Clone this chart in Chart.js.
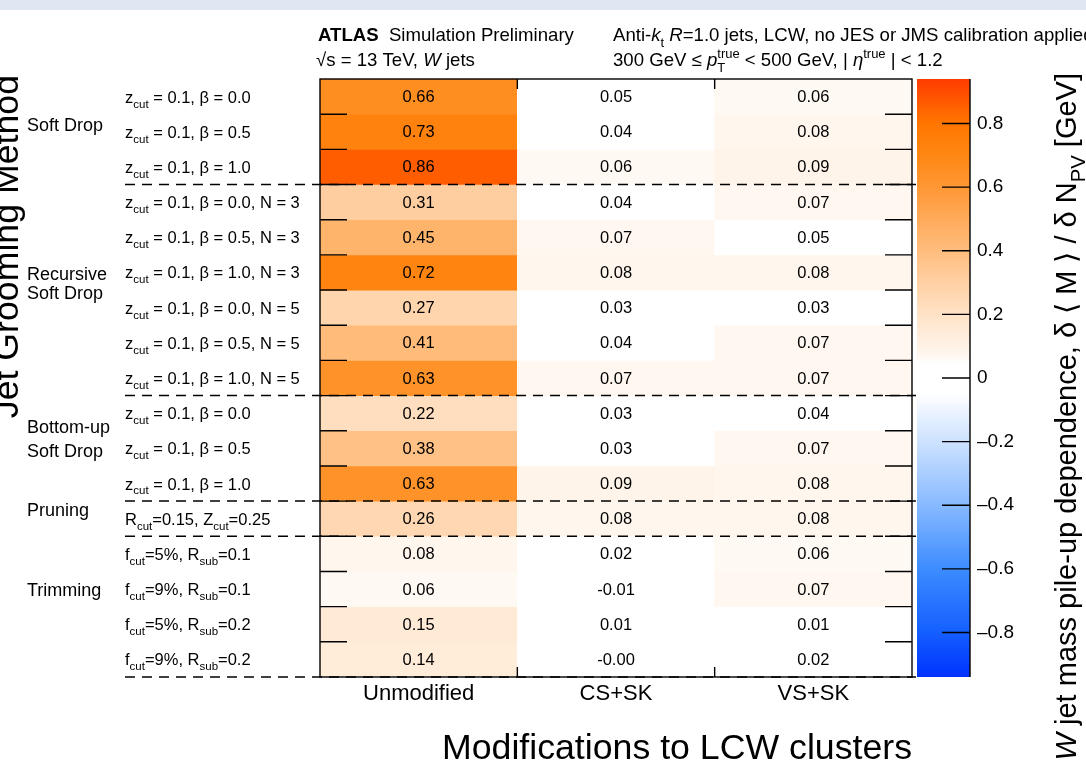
<!DOCTYPE html>
<html>
<head>
<meta charset="utf-8">
<script src="https://cdn.jsdelivr.net/npm/chart.js@4.4.1/dist/chart.umd.min.js"></script>
<style>
  body { margin: 0; background: #fff; }
  #wrap { position: relative; width: 1086px; height: 763px; overflow: hidden; background: #fff; }
  #band { position: absolute; left: 0; top: 0; width: 1086px; height: 10px; background: #dfe7f3; }
  canvas { position: absolute; left: 0; top: 0; }
</style>
</head>
<body>
<div id="wrap">
  <div id="band"></div>
  <canvas id="heat" width="1086" height="763"></canvas>
  <canvas id="scale" width="1086" height="763"></canvas>
</div>
<script>
// ---- data ----
const columns = ['Unmodified', 'CS+SK', 'VS+SK'];

const rowLabels = [
	'z_{cut} = 0.1, β = 0.0',
	'z_{cut} = 0.1, β = 0.5',
	'z_{cut} = 0.1, β = 1.0',
	'z_{cut} = 0.1, β = 0.0, N = 3',
	'z_{cut} = 0.1, β = 0.5, N = 3',
	'z_{cut} = 0.1, β = 1.0, N = 3',
	'z_{cut} = 0.1, β = 0.0, N = 5',
	'z_{cut} = 0.1, β = 0.5, N = 5',
	'z_{cut} = 0.1, β = 1.0, N = 5',
	'z_{cut} = 0.1, β = 0.0',
	'z_{cut} = 0.1, β = 0.5',
	'z_{cut} = 0.1, β = 1.0',
	'R_{cut}=0.15, Z_{cut}=0.25',
	'f_{cut}=5%, R_{sub}=0.1',
	'f_{cut}=9%, R_{sub}=0.1',
	'f_{cut}=5%, R_{sub}=0.2',
	'f_{cut}=9%, R_{sub}=0.2'
];

const unmodified = [0.66, 0.73, 0.86, 0.31, 0.45, 0.72, 0.27, 0.41, 0.63, 0.22, 0.38, 0.63, 0.26, 0.08, 0.06, 0.15, 0.14];
const csSk       = [0.05, 0.04, 0.06, 0.04, 0.07, 0.08, 0.03, 0.04, 0.07, 0.03, 0.03, 0.09, 0.08, 0.02, -0.01, 0.01, -0.004];
const vsSk       = [0.06, 0.08, 0.09, 0.07, 0.05, 0.08, 0.03, 0.07, 0.07, 0.04, 0.07, 0.08, 0.08, 0.06, 0.07, 0.01, 0.02];

const groups = ['Soft Drop', 'Recursive\nSoft Drop', 'Bottom-up\nSoft Drop', 'Pruning', 'Trimming'];
const groupEnds = [3, 9, 12, 13, 17];   // row index after which a dashed separator is drawn

const colorTicks = [-0.8, -0.6, -0.4, -0.2, 0, 0.2, 0.4, 0.6, 0.8];
const zMin = -0.94;
const zMax = 0.94;

// ---- look ----
const FONT = "'Liberation Sans', Arial, Helvetica, sans-serif";

const colorStops = [
	[-0.94, 0, 50, 255], [-0.8, 20, 95, 255], [-0.6, 60, 140, 255], [-0.4, 135, 185, 255],
	[-0.2, 205, 226, 255], [-0.1, 236, 244, 255], [-0.055, 255, 255, 255],
	[0.055, 255, 255, 255], [0.06, 255, 249, 243], [0.1, 255, 242, 230], [0.2, 255, 226, 198],
	[0.3, 255, 208, 164], [0.4, 255, 189, 125], [0.5, 255, 170, 90], [0.6, 255, 152, 52],
	[0.7, 255, 135, 20], [0.8, 255, 118, 0], [0.94, 255, 60, 0]
];

function heatColor(v) {
	if (v <= colorStops[0][0]) return `rgb(${colorStops[0].slice(1).join(',')})`;
	for (let i = 1; i < colorStops.length; i++) {
		const a = colorStops[i - 1], b = colorStops[i];
		if (v <= b[0]) {
			const t = (v - a[0]) / (b[0] - a[0]);
			const c = [1, 2, 3].map(k => Math.round(a[k] + (b[k] - a[k]) * t));
			return `rgb(${c.join(',')})`;
		}
	}
	const last = colorStops[colorStops.length - 1];
	return `rgb(${last.slice(1).join(',')})`;
}

// tiny rich text: _{sub} ^{sup} #i{italic} #b{bold}
function parseRich(str) {
	const toks = [];
	let buf = '';
	let i = 0;
	const flush = () => { if (buf) { toks.push({ text: buf, mode: 'n' }); buf = ''; } };
	while (i < str.length) {
		let mode = null, skip = 0;
		if ((str[i] === '_' || str[i] === '^') && str[i + 1] === '{') { mode = str[i] === '_' ? 'sub' : 'sup'; skip = 2; }
		else if (str[i] === '#' && (str[i + 1] === 'i' || str[i + 1] === 'b') && str[i + 2] === '{') { mode = str[i + 1]; skip = 3; }
		if (mode) {
			flush();
			const end = str.indexOf('}', i + skip);
			toks.push({ text: str.slice(i + skip, end), mode: mode });
			i = end + 1;
		} else {
			buf += str[i];
			i++;
		}
	}
	flush();
	return toks;
}

function drawRich(ctx, str, x, y, size, align) {
	const toks = parseRich(str);
	const fontOf = t => {
		if (t.mode === 'sub' || t.mode === 'sup') return `${(size * 0.7).toFixed(1)}px ${FONT}`;
		if (t.mode === 'i') return `italic ${size}px ${FONT}`;
		if (t.mode === 'b') return `bold ${size}px ${FONT}`;
		return `${size}px ${FONT}`;
	};
	let cursor = 0, subStart = 0, subW = 0;
	const placed = [];
	toks.forEach((t, i) => {
		ctx.font = fontOf(t);
		const w = ctx.measureText(t.text).width;
		let px = cursor;
		if (t.mode === 'sup' && i > 0 && toks[i - 1].mode === 'sub') {
			px = subStart;
			cursor = subStart + Math.max(subW, w);
		} else {
			if (t.mode === 'sub') { subStart = cursor; subW = w; }
			cursor += w;
		}
		const dy = t.mode === 'sub' ? size * 0.3 : t.mode === 'sup' ? -size * 0.42 : 0;
		placed.push({ t, px, dy });
	});
	const off = align === 'right' ? -cursor : align === 'center' ? -cursor / 2 : 0;
	ctx.textAlign = 'left';
	ctx.textBaseline = 'alphabetic';
	placed.forEach(p => {
		ctx.font = fontOf(p.t);
		ctx.fillText(p.t.text, x + off + p.px, y + p.dy);
	});
}

// ---- heat map ----
const cellValues = r => [unmodified[r], csSk[r], vsSk[r]];

const datasets = rowLabels.map((label, r) => ({
	label: label,
	values: cellValues(r),
	data: columns.map(() => [r, r + 1]),
	backgroundColor: cellValues(r).map(heatColor),
	borderWidth: 0,
	grouped: false,
	barPercentage: 1,
	categoryPercentage: 1
}));

const heatDecor = {
	id: 'heatDecor',
	afterDatasetsDraw(chart) {
		const { ctx, chartArea: a, scales: { x, y } } = chart;
		ctx.save();

		// cell numbers
		ctx.fillStyle = '#000';
		ctx.font = `16.5px ${FONT}`;
		ctx.textAlign = 'center';
		ctx.textBaseline = 'middle';
		chart.data.datasets.forEach((ds, r) => {
			chart.getDatasetMeta(r).data.forEach((el, c) => {
				ctx.fillText(ds.values[c].toFixed(2), el.x, (el.y + el.base) / 2 + 1);
			});
		});

		// frame and inward ticks
		ctx.strokeStyle = '#000';
		ctx.lineWidth = 1.4;
		ctx.strokeRect(a.left, a.top, a.width, a.height);
		ctx.beginPath();
		for (let r = 1; r < rowLabels.length; r++) {
			const py = y.getPixelForValue(r);
			ctx.moveTo(a.left, py); ctx.lineTo(a.left + 27, py);
			ctx.moveTo(a.right, py); ctx.lineTo(a.right - 27, py);
		}
		for (let c = 1; c < columns.length; c++) {
			const px = (x.getPixelForValue(c - 1) + x.getPixelForValue(c)) / 2;
			ctx.moveTo(px, a.top); ctx.lineTo(px, a.top + 10);
			ctx.moveTo(px, a.bottom); ctx.lineTo(px, a.bottom - 10);
		}
		ctx.stroke();

		// dashed group separators
		ctx.setLineDash([10, 7]);
		ctx.lineWidth = 1.5;
		ctx.beginPath();
		groupEnds.forEach(r => {
			const py = y.getPixelForValue(r);
			ctx.moveTo(125, py); ctx.lineTo(a.right + 4, py);
		});
		ctx.stroke();
		ctx.setLineDash([]);

		// row labels
		ctx.fillStyle = '#000';
		rowLabels.forEach((lab, r) => {
			drawRich(ctx, lab, 125, y.getPixelForValue(r + 0.5) + 6, 16.5, 'left');
		});

		// group labels
		const groupAnchor = [1.48, 5.71, 10.06, 12.42, 14.7];
		const groupGap = [0, 19.5, 24, 0, 0];
		groups.forEach((g, i) => {
			g.split('\n').forEach((line, k) => {
				drawRich(ctx, line, 27, y.getPixelForValue(groupAnchor[i]) + k * groupGap[i], 18, 'left');
			});
		});

		// axis titles
		drawRich(ctx, 'Modifications to LCW clusters', a.right, 759, 35.7, 'right');
		ctx.save();
		ctx.translate(18, 75);
		ctx.rotate(-Math.PI / 2);
		drawRich(ctx, 'Jet Grooming Method', 0, 0, 35.7, 'right');
		ctx.restore();

		// header
		drawRich(ctx, '#b{ATLAS}  Simulation Preliminary', 318, 41, 18.6, 'left');
		drawRich(ctx, '√s = 13 TeV, #i{W} jets', 316, 66, 18.6, 'left');
		drawRich(ctx, 'Anti-#i{k}_{t} #i{R}=1.0 jets, LCW, no JES or JMS calibration applied', 613, 41, 18.6, 'left');
		drawRich(ctx, '300 GeV ≤ #i{p}_{T}^{true} < 500 GeV, | #i{η}^{true} | < 1.2', 613, 66, 18.6, 'left');

		ctx.restore();
	}
};

new Chart(document.getElementById('heat'), {
	type: 'bar',
	data: { labels: columns, datasets: datasets },
	options: {
		responsive: false,
		animation: false,
		events: [],
		layout: { padding: { left: 320, right: 174, top: 79, bottom: 56 } },
		plugins: { legend: { display: false }, tooltip: { enabled: false } },
		scales: {
			x: {
				type: 'category',
				offset: true,
				grid: { display: false, drawTicks: false },
				border: { display: false },
				ticks: { color: '#000', font: { family: FONT, size: 22 }, padding: 4 },
				afterFit: s => { s.height = 30; }
			},
			y: { type: 'linear', min: 0, max: rowLabels.length, reverse: true, display: false }
		}
	},
	plugins: [heatDecor]
});

// ---- colour bar ----
const scaleDecor = {
	id: 'scaleDecor',
	afterDatasetsDraw(chart) {
		const { ctx, chartArea: a, scales: { y } } = chart;
		ctx.save();
		ctx.strokeStyle = '#000';
		ctx.lineWidth = 1.4;
		ctx.beginPath();
		colorTicks.forEach(v => {
			const py = y.getPixelForValue(v);
			ctx.moveTo(a.right - 28, py); ctx.lineTo(a.right, py);
		});
		ctx.moveTo(a.right, a.top); ctx.lineTo(a.right, a.bottom);
		ctx.stroke();

		ctx.fillStyle = '#000';
		ctx.translate(1076, 73);
		ctx.rotate(-Math.PI / 2);
		drawRich(ctx, '#i{W} jet mass pile-up dependence, δ ⟨ M ⟩ / δ N_{PV} [GeV]', 0, 0, 29, 'right');
		ctx.restore();
	}
};

new Chart(document.getElementById('scale'), {
	type: 'bar',
	data: {
		labels: [''],
		datasets: [{
			data: [[zMin, zMax]],
			borderWidth: 0,
			barPercentage: 1,
			categoryPercentage: 1,
			backgroundColor: c => {
				const { chart } = c;
				if (!chart.chartArea) return '#fff';
				const y = chart.scales.y;
				const g = chart.ctx.createLinearGradient(0, y.getPixelForValue(zMin), 0, y.getPixelForValue(zMax));
				const n = 80;
				for (let i = 0; i <= n; i++) g.addColorStop(i / n, heatColor(zMin + (zMax - zMin) * i / n));
				return g;
			}
		}]
	},
	options: {
		responsive: false,
		animation: false,
		events: [],
		layout: { padding: { left: 917, right: 56, top: 79, bottom: 86 } },
		plugins: { legend: { display: false }, tooltip: { enabled: false } },
		scales: {
			x: { display: false },
			y: {
				position: 'right',
				min: zMin,
				max: zMax,
				grid: { display: false, drawTicks: false },
				border: { display: false },
				afterBuildTicks: s => { s.ticks = colorTicks.map(v => ({ value: v })); },
				ticks: {
					color: '#000',
					padding: 7,
					font: { family: FONT, size: 19 },
					callback: v => v === 0 ? '0' : v < 0 ? '\u2013' + Math.abs(v).toFixed(1) : v.toFixed(1)
				},
				afterFit: s => { s.width = 60; }
			}
		}
	},
	plugins: [scaleDecor]
});
</script>
</body>
</html>
